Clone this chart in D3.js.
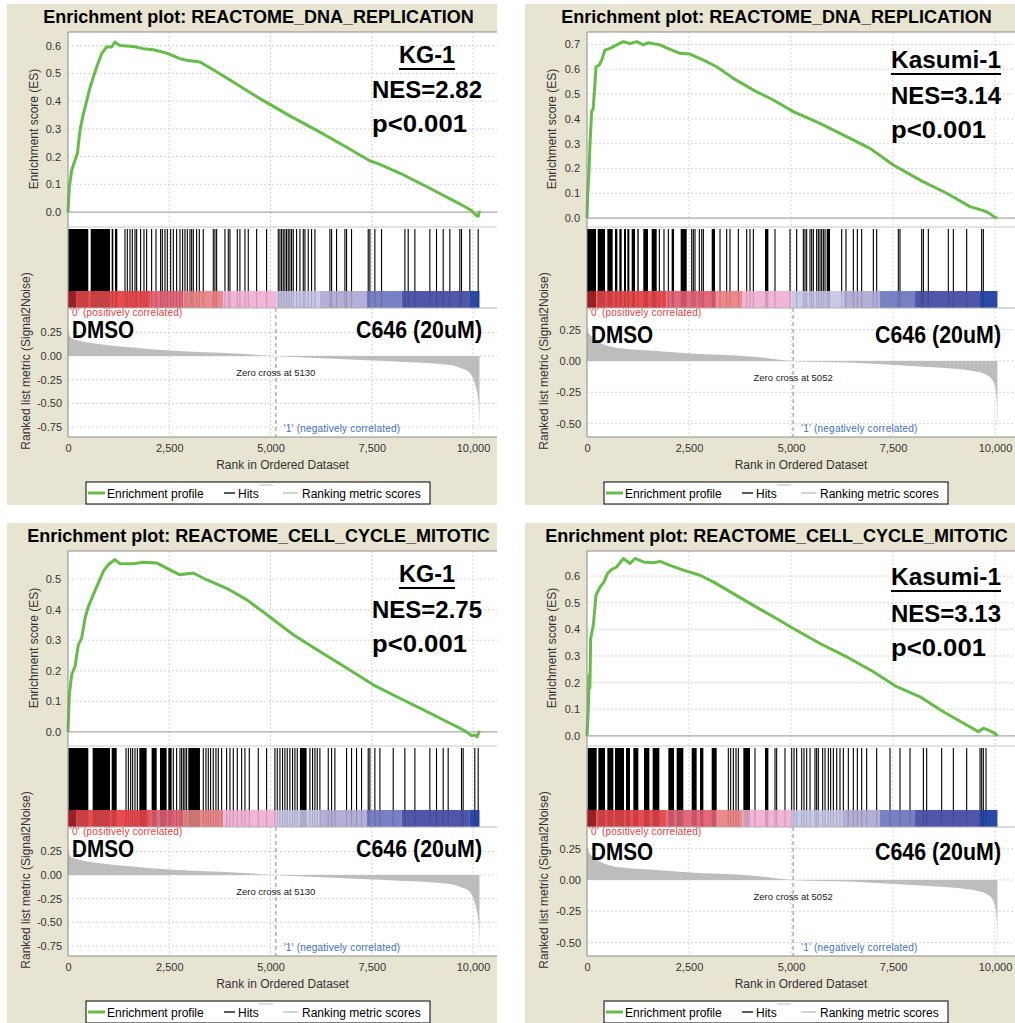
<!DOCTYPE html>
<html>
<head>
<meta charset="utf-8">
<script src="https://cdn.jsdelivr.net/npm/d3@7"></script>
<style>
  body { margin: 0; background: #fff; }
  svg { display: block; }
  text { font-family: "Liberation Sans", Arial, sans-serif; }
</style>
</head>
<body>
<svg width="1015" height="1023"></svg>
<script>
var svg = d3.select("svg");

// ---- data ----
var titles = [
  "Enrichment plot: REACTOME_DNA_REPLICATION",
  "Enrichment plot: REACTOME_DNA_REPLICATION",
  "Enrichment plot: REACTOME_CELL_CYCLE_MITOTIC",
  "Enrichment plot: REACTOME_CELL_CYCLE_MITOTIC"
];
var cellLines = ["KG-1", "Kasumi-1", "KG-1", "Kasumi-1"];
var nesValues = [2.82, 3.14, 2.75, 3.13];
var pLabel = "p<0.001";
var groupA = "DMSO";
var groupB = "C646 (20uM)";
var zeroCross = { "KG-1": 5130, "Kasumi-1": 5052 };
var xTicks = [0, 2500, 5000, 7500, 10000];
var esTicks = [
  [0, 0.1, 0.2, 0.3, 0.4, 0.5, 0.6],
  [0, 0.1, 0.2, 0.3, 0.4, 0.5, 0.6, 0.7],
  [0, 0.1, 0.2, 0.3, 0.4, 0.5],
  [0, 0.1, 0.2, 0.3, 0.4, 0.5, 0.6]
];
var rankTicks = {
  "KG-1": [0.25, 0, -0.25, -0.5, -0.75],
  "Kasumi-1": [0.25, 0, -0.25, -0.5]
};
var legendLabels = ["Enrichment profile", "Hits", "Ranking metric scores"];

// running enrichment score, [rank, ES]
var esKg1Dna = [[0,0],[33,0.09],[90,0.15],[173,0.187],[230,0.21],[296,0.295],[362,0.343],[444,0.39],[526,0.439],[625,0.487],[724,0.529],[831,0.571],[954,0.595],[1078,0.595],[1160,0.613],[1283,0.6],[1612,0.597],[1859,0.589],[2106,0.585],[2435,0.573],[2764,0.553],[2929,0.547],[3258,0.541],[3587,0.513],[4080,0.469],[4739,0.409],[5500,0.345],[6200,0.29],[6900,0.232],[7450,0.185],[7700,0.172],[8200,0.14],[8935,0.086],[9670,0.03],[9970,0.005],[10080,-0.012],[10130,-0.015],[10160,0.005]];
var esKasumiDna = [[0,0],[16,0.086],[49,0.19],[74,0.3],[114,0.43],[150,0.44],[196,0.543],[221,0.61],[302,0.617],[360,0.637],[441,0.677],[564,0.684],[727,0.698],[890,0.711],[1054,0.703],[1217,0.711],[1381,0.698],[1503,0.707],[1790,0.698],[2034,0.68],[2280,0.664],[2525,0.661],[2852,0.637],[3178,0.61],[3587,0.563],[4077,0.516],[4567,0.476],[5057,0.429],[5711,0.382],[6364,0.328],[6936,0.281],[7508,0.214],[8162,0.153],[8816,0.1],[9388,0.046],[9674,0.032],[9796,0.025],[10000,0.003],[10060,0]];
var esKg1Cc = [[0,0],[33,0.12],[90,0.187],[173,0.214],[255,0.285],[337,0.307],[420,0.372],[502,0.41],[625,0.449],[748,0.487],[872,0.525],[995,0.547],[1160,0.564],[1283,0.55],[1612,0.55],[1859,0.555],[2188,0.553],[2435,0.536],[2764,0.514],[3093,0.52],[3422,0.498],[3916,0.47],[4410,0.433],[4904,0.384],[5562,0.318],[6220,0.263],[6878,0.209],[7536,0.154],[8194,0.11],[8852,0.067],[9346,0.034],[9675,0.012],[9840,0],[9963,-0.012],[10045,-0.01],[10100,-0.016],[10160,0.003]];
var esKasumiCc = [[0,0],[33,0.104],[49,0.228],[70,0.18],[90,0.366],[155,0.416],[220,0.528],[319,0.559],[417,0.578],[499,0.609],[605,0.625],[728,0.634],[891,0.666],[1054,0.647],[1177,0.666],[1381,0.653],[1626,0.65],[1790,0.655],[2034,0.64],[2361,0.622],[2770,0.603],[3096,0.578],[3587,0.534],[4077,0.49],[4567,0.447],[5057,0.403],[5711,0.347],[6364,0.297],[7018,0.241],[7590,0.185],[8162,0.147],[8734,0.091],[9306,0.041],[9592,0.016],[9714,0.029],[9837,0.022],[10000,0.01],[10060,0]];

// gene set hits (rank positions) and dense runs of hits [from, to]
var hitsKg1Dna = [1407,1465,1531,1588,1654,1695,1794,1876,1942,2065,2172,2287,2329,2394,2452,2534,2600,2682,2765,2830,2888,2946,3011,3053,3094,3176,3242,3340,3587,3628,3670,3875,3958,3999,4180,4245,4369,4451,4657,4904,5192,5233,5274,5315,5356,5397,5438,5479,5521,5562,5644,5726,5809,5850,5932,6014,6097,6467,6508,6631,6837,6878,7001,7413,7454,7577,7742,8318,8400,8565,8935,9099,9264,9428,9675,9716,9922,10128];
var runsKg1Dna = [[7,501],[560,1037],[1078,1119],[1160,1217]];
var hitsKasumiDna = [1773,1887,1994,2566,2606,2647,2753,2811,2852,3260,3423,3505,3709,3914,3995,4077,4608,4976,5139,5303,5343,5384,5466,5507,5548,5629,5670,5711,5752,5793,5834,6242,6348,6528,6626,6732,7018,7100,7631,7672,8203,8244,8366,8856,8979,9306,9673,9714];
var runsKasumiDna = [[0,221],[262,441],[499,629],[686,744],[793,850],[907,956],[989,1038],[1095,1177],[1234,1267],[1381,1495],[1585,1708],[2075,2133],[2296,2443],[3056,3137],[4363,4445],[5874,5956]];
var hitsKg1Cc = [1432,1490,1547,1596,1654,1712,2600,2682,2765,2806,2847,2888,2929,3340,3406,3464,3521,3587,3653,3711,3793,3916,3999,4081,4180,4287,4369,4476,4698,4904,5109,5167,5233,5298,5356,5414,5479,5545,5603,5661,5973,6039,6097,6154,6220,6426,6508,6590,6878,7001,7125,7248,7413,7454,7577,7701,8030,8318,8565,8935,9099,9264,9387,9716,9757,10045,10128];
var runsKg1Cc = [[8,502],[609,1037],[1078,1202],[1761,1942],[2065,2189],[2271,2436],[2477,2559],[2970,3258],[5726,5891]];
var hitsKasumiCc = [3464,3521,3587,3652,3709,4118,4608,4649,4853,5017,5074,5139,5262,5319,5384,5466,5588,5629,5670,5776,5834,5915,5972,6038,6120,6201,6283,6405,6528,6626,6732,6855,7100,7427,7672,7917,8244,8325,8693,8979,9306,9633,9673,9714,9780];
var runsKasumiCc = [[17,237],[278,441],[499,646],[686,907],[956,1054],[1136,1258],[1397,1528],[1610,1773],[1994,2133],[2198,2361],[2566,2688],[2770,2852],[3056,3178],[3832,3995],[4363,4445]];

// ranked list metric (Signal2Noise), [rank, value]
var metricKg1 = [[0,0.29],[20,0.24],[60,0.2],[110,0.185],[300,0.16],[600,0.135],[1000,0.115],[1600,0.09],[2500,0.058],[3400,0.04],[4100,0.027],[5130,0],[6000,-0.018],[7370,-0.045],[8300,-0.062],[9017,-0.078],[9500,-0.1],[9675,-0.125],[9922,-0.18],[10045,-0.29],[10103,-0.39],[10136,-0.5],[10152,-0.65],[10160,-0.81]];
var metricKasumi = [[0,0.29],[25,0.24],[74,0.21],[237,0.162],[809,0.101],[1626,0.082],[2443,0.061],[4077,0.034],[5052,0],[6528,-0.014],[8162,-0.045],[9388,-0.077],[9796,-0.112],[9959,-0.165],[10025,-0.245],[10050,-0.38],[10060,-0.575]];

// colour bar band edges (ranks)
var bandsKg1 = [0, 200, 2024, 2847, 3834, 5150, 6220, 7372, 8236, 9922, 10160];
var bandsKasumi = [0, 230, 1953, 3178, 3816, 5017, 6283, 7182, 8040, 9633, 10060];
var bandColors = ["#b3262c", "#ea4b4f", "#e5677b", "#ee898b", "#f3b5d5", "#c9c9e8", "#b3afd7", "#7980c3", "#5056a9", "#2949a7"];

var series = [
  { es: esKg1Dna, hits: hitsKg1Dna, runs: runsKg1Dna, metric: metricKg1, bands: bandsKg1 },
  { es: esKasumiDna, hits: hitsKasumiDna, runs: runsKasumiDna, metric: metricKasumi, bands: bandsKasumi },
  { es: esKg1Cc, hits: hitsKg1Cc, runs: runsKg1Cc, metric: metricKg1, bands: bandsKg1 },
  { es: esKasumiCc, hits: hitsKasumiCc, runs: runsKasumiCc, metric: metricKasumi, bands: bandsKasumi }
];

// ---- layout ----
var layout = [
  { x0: 7,   y0: 4,   left: 68,  ten: 473, right: 497,  esDom: [-0.05, 0.649],  rankDom: [-0.856, 0.508], anno: [59, 94, 128], grp: 334 },
  { x0: 525, y0: 4,   left: 587, ten: 995, right: 1015, esDom: [-0.032, 0.75],  rankDom: [-0.607, 0.423], anno: [64, 100, 134], grp: 339 },
  { x0: 7,   y0: 523, left: 68,  ten: 473, right: 497,  esDom: [-0.043, 0.592], rankDom: [-0.856, 0.508], anno: [59, 95, 129], grp: 334 },
  { x0: 525, y0: 523, left: 587, ten: 995, right: 1015, esDom: [-0.034, 0.694], rankDom: [-0.607, 0.423], anno: [62, 99, 133], grp: 337 }
];
// widths of the big bold labels in the picture
var fitWidth = { "KG-1": 56, "Kasumi-1": 110, nes: 110, p: 95, a: 62, b: 126 };

var green = "#65bc48";
var gridColor = "#d4d4d4";
var annoFont = "Carlito, 'Open Sans', 'Noto Sans', sans-serif";

function bigText(g, x, y, str, w, size) {
  var t = g.append("text")
    .attr("x", x).attr("y", y)
    .attr("font-family", annoFont).attr("font-weight", 700).attr("font-size", size || 24.5)
    .attr("fill", "#000")
    .text(str);
  t.attr("textLength", w).attr("lengthAdjust", "spacingAndGlyphs");
  return t;
}

function drawPanel(i) {
  var L = layout[i], S = series[i], cell = cellLines[i];
  var y0 = L.y0;
  var esTop = y0 + 28, esBot = y0 + 222, hitsTop = y0 + 225, barTop = y0 + 287, barBot = y0 + 304, rankBot = y0 + 433;

  var x = d3.scaleLinear().domain([0, 10000]).range([L.left, L.ten]);
  var yE = d3.scaleLinear().domain(L.esDom).range([esBot, esTop]);
  var yR = d3.scaleLinear().domain(L.rankDom).range([rankBot, barBot]);

  var g = svg.append("g");

  g.append("rect")
    .attr("x", L.x0).attr("y", y0)
    .attr("width", 490).attr("height", 501)
    .attr("fill", "#e8e4d2");

  g.append("rect")
    .attr("x", L.left).attr("y", esTop)
    .attr("width", L.right - L.left).attr("height", rankBot - esTop)
    .attr("fill", "#fff");

  // grid
  var vx = xTicks.slice(1);
  [[esTop, esBot], [hitsTop, barTop], [barBot, rankBot]].forEach(function(r) {
    g.selectAll(null).data(vx).enter().append("line")
      .attr("x1", function(d) { return x(d); }).attr("x2", function(d) { return x(d); })
      .attr("y1", r[0]).attr("y2", r[1])
      .attr("stroke", gridColor).attr("stroke-dasharray", "2,2");
  });
  g.selectAll(null).data(esTicks[i].slice(1)).enter().append("line")
    .attr("x1", L.left).attr("x2", L.right)
    .attr("y1", function(d) { return yE(d); }).attr("y2", function(d) { return yE(d); })
    .attr("stroke", gridColor).attr("stroke-dasharray", "2,2");
  g.selectAll(null).data(rankTicks[cell]).enter().append("line")
    .attr("x1", L.left).attr("x2", L.right)
    .attr("y1", function(d) { return yR(d); }).attr("y2", function(d) { return yR(d); })
    .attr("stroke", gridColor).attr("stroke-dasharray", "2,2");

  // ES zero line
  g.append("line")
    .attr("x1", L.left).attr("x2", L.right)
    .attr("y1", yE(0)).attr("y2", yE(0))
    .attr("stroke", "#a8a8a8").attr("stroke-width", 1.2);

  // enrichment profile
  var line = d3.line()
    .x(function(d) { return x(d[0]); })
    .y(function(d) { return yE(d[1]); });
  g.append("path")
    .datum(S.es)
    .attr("d", line)
    .attr("fill", "none")
    .attr("stroke", green)
    .attr("stroke-width", 3)
    .attr("stroke-linejoin", "round");

  // hits
  function drawHits(top, bottom, op) {
    g.selectAll(null).data(S.hits).enter().append("line")
      .attr("x1", function(d) { return x(d); }).attr("x2", function(d) { return x(d); })
      .attr("y1", top).attr("y2", bottom)
      .attr("stroke", "#000").attr("stroke-width", 1.1).attr("opacity", op);
    g.selectAll(null).data(S.runs).enter().append("rect")
      .attr("x", function(d) { return x(d[0]); })
      .attr("width", function(d) { return Math.max(1, x(d[1]) - x(d[0])); })
      .attr("y", top).attr("height", bottom - top)
      .attr("fill", "#000").attr("opacity", op);
  }
  drawHits(hitsTop, barTop, 1);

  // colour bar
  var bandIdx = d3.range(S.bands.length - 1);
  g.selectAll(null).data(bandIdx).enter().append("rect")
    .attr("x", function(k) { return x(S.bands[k]); })
    .attr("width", function(k) { return x(S.bands[k + 1]) - x(S.bands[k]); })
    .attr("y", barTop).attr("height", barBot - barTop)
    .attr("fill", function(k) { return bandColors[k]; });
  drawHits(barTop, barBot, 0.15);

  // ranking metric
  var area = d3.area()
    .x(function(d) { return x(d[0]); })
    .y0(yR(0))
    .y1(function(d) { return yR(d[1]); })
    .curve(d3.curveMonotoneX);
  g.append("path")
    .datum(S.metric)
    .attr("d", area)
    .attr("fill", "#bdbdbd");

  var zx = x(zeroCross[cell]);
  g.append("line")
    .attr("x1", zx).attr("x2", zx)
    .attr("y1", barBot).attr("y2", rankBot)
    .attr("stroke", "#b0b0b0").attr("stroke-width", 1.5).attr("stroke-dasharray", "4,3");
  g.append("text")
    .attr("x", zx).attr("y", yR(0) + 20)
    .attr("text-anchor", "middle")
    .attr("font-size", 9.5).attr("fill", "#222")
    .text("Zero cross at " + zeroCross[cell]);
  g.append("text")
    .attr("x", zx + 8).attr("y", y0 + 428)
    .attr("font-size", 10).attr("fill", "#4470c4").attr("letter-spacing", 0.2)
    .text("'1' (negatively correlated)");
  g.append("text")
    .attr("x", L.left + 2).attr("y", y0 + 312)
    .attr("font-size", 10).attr("fill", "#e8403c").attr("letter-spacing", 0.2)
    .text("'0' (positively correlated)");

  // frame
  var frame = "#8c8c8c";
  g.append("line").attr("x1", L.left).attr("x2", L.left).attr("y1", esTop).attr("y2", rankBot).attr("stroke", frame);
  g.append("line").attr("x1", L.left).attr("x2", L.right).attr("y1", esTop).attr("y2", esTop).attr("stroke", frame);
  g.append("line").attr("x1", L.left).attr("x2", L.right).attr("y1", esBot + 1).attr("y2", esBot + 1).attr("stroke", "#c8c8c8");
  g.append("line").attr("x1", L.left).attr("x2", L.right).attr("y1", barBot).attr("y2", barBot).attr("stroke", "#b0b0b0");
  g.append("line").attr("x1", L.left).attr("x2", L.right).attr("y1", rankBot).attr("y2", rankBot).attr("stroke", frame);

  // axes
  function styleAxis(sel, size) {
    sel.select(".domain").remove();
    sel.selectAll("text")
      .attr("font-family", "'Liberation Sans', Arial, sans-serif")
      .attr("font-size", size).attr("fill", "#333");
  }
  g.append("g")
    .attr("transform", "translate(" + L.left + ",0)")
    .call(d3.axisLeft(yE).tickValues(esTicks[i]).tickSize(0).tickPadding(7)
      .tickFormat(function(d) { return d.toFixed(1); }))
    .call(styleAxis, 11);
  g.append("g")
    .attr("transform", "translate(" + L.left + ",0)")
    .call(d3.axisLeft(yR).tickValues(rankTicks[cell]).tickSize(0).tickPadding(6)
      .tickFormat(function(d) { return d.toFixed(2); }))
    .call(styleAxis, 11);
  g.append("g")
    .attr("transform", "translate(0," + rankBot + ")")
    .call(d3.axisBottom(x).tickValues(xTicks).tickSize(0).tickPadding(7)
      .tickFormat(d3.format(",")))
    .call(styleAxis, 11);

  g.append("text")
    .attr("transform", "translate(" + (L.x0 + 27) + "," + ((esTop + esBot) / 2) + ") rotate(-90)")
    .attr("text-anchor", "middle").attr("dy", "0.35em")
    .attr("font-size", 12).attr("fill", "#333")
    .text("Enrichment score (ES)");
  g.append("text")
    .attr("transform", "translate(" + (L.x0 + 19) + "," + (y0 + 357) + ") rotate(-90)")
    .attr("text-anchor", "middle").attr("dy", "0.35em")
    .attr("font-size", 12).attr("fill", "#333")
    .text("Ranked list metric (Signal2Noise)");
  g.append("text")
    .attr("x", (L.left + L.right) / 2).attr("y", y0 + 465)
    .attr("text-anchor", "middle")
    .attr("font-size", 12).attr("fill", "#333")
    .text("Rank in Ordered Dataset");

  // title
  g.append("text")
    .attr("x", L.x0 + 251.5).attr("y", y0 + 19)
    .attr("text-anchor", "middle")
    .attr("font-size", 18).attr("font-weight", "bold").attr("fill", "#000")
    .text(titles[i]);

  // annotations
  var ax = L.left + 304;
  var nesW = fitWidth.nes;
  bigText(g, ax, y0 + L.anno[1], "NES=" + nesValues[i].toFixed(2), nesW);
  var nameW = fitWidth[cell];
  var nx = ax + nesW / 2 - nameW / 2;
  bigText(g, nx, y0 + L.anno[0], cell, nameW);
  g.append("line")
    .attr("x1", nx).attr("x2", nx + nameW)
    .attr("y1", y0 + L.anno[0] + 6).attr("y2", y0 + L.anno[0] + 6)
    .attr("stroke", "#000").attr("stroke-width", 2);
  bigText(g, ax, y0 + L.anno[2], pLabel, fitWidth.p);

  bigText(g, L.left + 4, y0 + L.grp, groupA, fitWidth.a, 23);
  bigText(g, L.left + 414 - fitWidth.b, y0 + L.grp, groupB, fitWidth.b, 23);

  // legend
  var lx = L.x0 + 79, ly = y0 + 478;
  g.append("rect")
    .attr("x", lx).attr("y", ly).attr("width", 344).attr("height", 22)
    .attr("fill", "#fff").attr("stroke", "#000");
  g.append("line").attr("x1", lx + 2).attr("x2", lx + 19).attr("y1", ly + 11).attr("y2", ly + 11)
    .attr("stroke", green).attr("stroke-width", 3);
  g.append("line").attr("x1", lx + 138).attr("x2", lx + 149).attr("y1", ly + 11).attr("y2", ly + 11)
    .attr("stroke", "#000").attr("stroke-width", 1.3);
  g.append("line").attr("x1", lx + 173).attr("x2", lx + 187).attr("y1", ly + 3).attr("y2", ly + 3)
    .attr("stroke", "#ddd").attr("stroke-width", 2);
  g.append("line").attr("x1", lx + 197).attr("x2", lx + 212).attr("y1", ly + 11).attr("y2", ly + 11)
    .attr("stroke", "#bbb").attr("stroke-width", 1.3);
  var lpos = [21, 152, 216];
  g.selectAll(null).data(legendLabels).enter().append("text")
    .attr("x", function(d, k) { return lx + lpos[k]; })
    .attr("y", ly + 15.5)
    .attr("font-size", 12).attr("fill", "#000")
    .text(function(d) { return d; });
}

for (var i = 0; i < 4; i++) drawPanel(i);
</script>
</body>
</html>
